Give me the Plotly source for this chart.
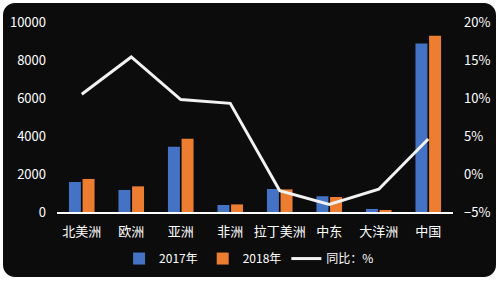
import plotly.graph_objects as go

categories = ["北美洲", "欧洲", "亚洲", "非洲", "拉丁美洲", "中东", "大洋洲", "中国"]
values_2017 = [1580, 1160, 3440, 370, 1210, 830, 160, 8870]
values_2018 = [1740, 1350, 3860, 400, 1190, 790, 105, 9270]
yoy_pct = [10.5, 15.4, 9.8, 9.3, -2.2, -4.0, -2.0, 4.6]

W, H = 500, 281
L, R, T, B = 57, 453, 22, 212  # plot area in px


def px(x):
    return (x - L) / (R - L)


def py(y):
    return (B - y) / (B - T)


def rounded_rect(x0, y0, x1, y1, r):
    k = 0.45
    p = f"M {px(x0 + r)},{py(y0)} L {px(x1 - r)},{py(y0)} "
    p += f"C {px(x1 - r * k)},{py(y0)} {px(x1)},{py(y0 + r * k)} {px(x1)},{py(y0 + r)} "
    p += f"L {px(x1)},{py(y1 - r)} "
    p += f"C {px(x1)},{py(y1 - r * k)} {px(x1 - r * k)},{py(y1)} {px(x1 - r)},{py(y1)} "
    p += f"L {px(x0 + r)},{py(y1)} "
    p += f"C {px(x0 + r * k)},{py(y1)} {px(x0)},{py(y1 - r * k)} {px(x0)},{py(y1 - r)} "
    p += f"L {px(x0)},{py(y0 + r)} "
    p += f"C {px(x0)},{py(y0 + r * k)} {px(x0 + r * k)},{py(y0)} {px(x0 + r)},{py(y0)} Z"
    return p


font_family = "Noto Sans CJK SC, Noto Sans, sans-serif"

fig = go.Figure()
fig.add_trace(go.Bar(x=categories, y=values_2017, name="2017年",
                     marker=dict(color="#4472C4", line=dict(width=0))))
fig.add_trace(go.Bar(x=categories, y=values_2018, name="2018年",
                     marker=dict(color="#ED7D31", line=dict(width=0))))
fig.add_trace(go.Scatter(x=categories, y=yoy_pct, name="同比：%", yaxis="y2",
                         mode="lines", line=dict(color="#f2f2f2", width=3)))

fig.update_layout(
    width=W, height=H,
    margin=dict(l=L, r=W - R, t=T, b=H - B, autoexpand=False),
    paper_bgcolor="white",
    plot_bgcolor="rgba(0,0,0,0)",
    barmode="group",
    bargap=0.45,
    bargroupgap=0.12,
    font=dict(family=font_family, color="white", size=12),
    showlegend=True,
    legend=dict(orientation="h", x=0.485, xanchor="center", y=-0.245, yanchor="middle",
                font=dict(size=12, color="white"), bgcolor="rgba(0,0,0,0)",
                itemwidth=30, tracegroupgap=0),
    xaxis=dict(showline=True, linecolor="white", linewidth=2, showgrid=False,
               ticks="", tickfont=dict(size=13, color="white"), zeroline=False,
               ticklabelstandoff=6, fixedrange=True),
    yaxis=dict(range=[0, 10000], dtick=2000, tickformat="d", showgrid=False, zeroline=False,
               tickfont=dict(size=13, color="white"), ticks="", showline=False,
               ticklabelstandoff=10),
    yaxis2=dict(range=[-5, 20], dtick=5, overlaying="y", side="right", showgrid=False,
                zeroline=False, ticksuffix="%", tickfont=dict(size=13, color="white"),
                ticks="", showline=False, ticklabelstandoff=10),
    shapes=[dict(type="path", xref="paper", yref="paper", layer="below",
                 path=rounded_rect(3, 3, 496, 277, 12),
                 fillcolor="#0c0c0c", line=dict(width=0))],
)

fig.write_html("out.html")
